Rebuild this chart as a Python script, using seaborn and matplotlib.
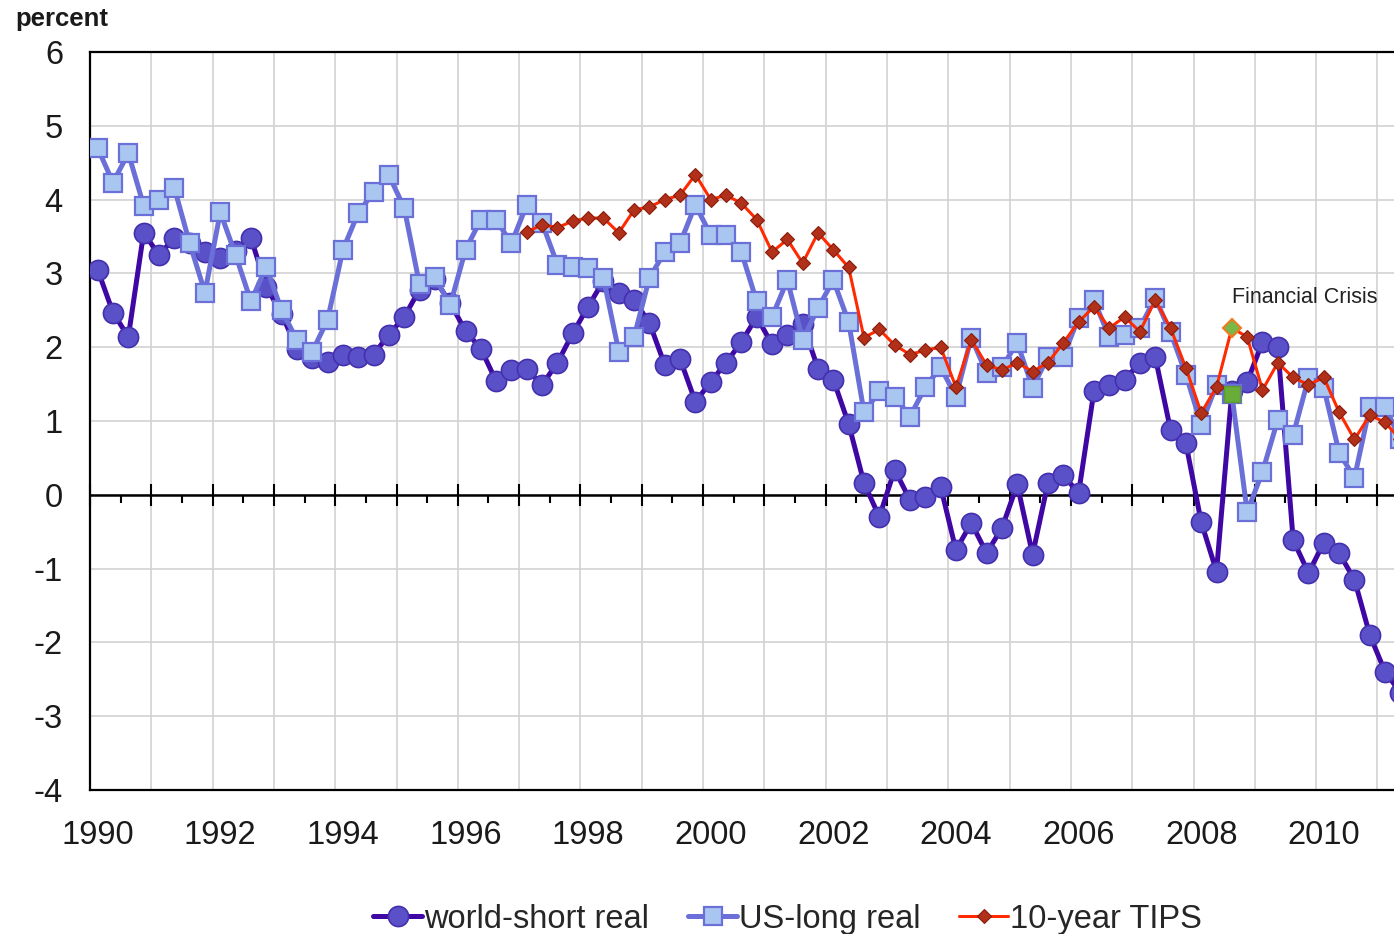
import pandas as pd
import seaborn as sns
import matplotlib.pyplot as plt
from matplotlib.ticker import FixedLocator

# quarterly data, 1990Q1 - 2011Q2
quarters = pd.period_range("1990Q1", "2011Q2", freq="Q")

world_short = [3.05, 2.47, 2.14, 3.55, 3.25, 3.48, 3.41, 3.29, 3.21, 3.30,
               3.48, 2.82, 2.45, 1.98, 1.86, 1.80, 1.90, 1.87, 1.90, 2.17,
               2.41, 2.78, 2.92, 2.60, 2.22, 1.98, 1.54, 1.69, 1.70, 1.49,
               1.79, 2.19, 2.55, 2.90, 2.74, 2.64, 2.33, 1.76, 1.84, 1.26,
               1.53, 1.79, 2.07, 2.41, 2.04, 2.17, 2.32, 1.71, 1.56, 0.96,
               0.16, -0.30, 0.34, -0.07, -0.03, 0.11, -0.75, -0.38, -0.79, -0.45,
               0.14, -0.81, 0.16, 0.27, 0.02, 1.40, 1.49, 1.56, 1.79, 1.87,
               0.88, 0.70, -0.37, -1.04, 1.40, 1.53, 2.07, 2.00, -0.61, -1.06,
               -0.65, -0.79, -1.15, -1.90, -2.40, -2.68]

us_long = [4.70, 4.23, 4.63, 3.92, 4.00, 4.16, 3.41, 2.74, 3.83, 3.25,
           2.62, 3.09, 2.50, 2.10, 1.94, 2.37, 3.32, 3.82, 4.10, 4.33,
           3.89, 2.85, 2.95, 2.57, 3.32, 3.73, 3.72, 3.41, 3.93, 3.68,
           3.12, 3.09, 3.07, 2.94, 1.94, 2.14, 2.94, 3.29, 3.41, 3.93,
           3.52, 3.52, 3.29, 2.62, 2.41, 2.91, 2.10, 2.53, 2.91, 2.34,
           1.12, 1.40, 1.33, 1.06, 1.46, 1.73, 1.33, 2.13, 1.65, 1.73,
           2.06, 1.45, 1.87, 1.87, 2.40, 2.64, 2.14, 2.17, 2.26, 2.67,
           2.20, 1.63, 0.95, 1.49, 1.36, -0.23, 0.31, 1.02, 0.81, 1.58,
           1.45, 0.57, 0.23, 1.19, 1.19, 0.75]

tips_quarters = pd.period_range("1997Q1", "2011Q2", freq="Q")
tips = [3.56, 3.66, 3.62, 3.71, 3.75, 3.75, 3.55, 3.86, 3.90, 4.00,
        4.06, 4.34, 4.00, 4.06, 3.95, 3.73, 3.29, 3.46, 3.14, 3.55,
        3.32, 3.08, 2.13, 2.24, 2.03, 1.90, 1.96, 2.00, 1.46, 2.10,
        1.76, 1.69, 1.79, 1.67, 1.79, 2.06, 2.34, 2.55, 2.26, 2.41,
        2.21, 2.64, 2.26, 1.72, 1.11, 1.46, 2.26, 2.14, 1.42, 1.79,
        1.59, 1.49, 1.59, 1.12, 0.75, 1.08, 0.98, 0.75]

crisis_quarter = pd.Period("2008Q3", freq="Q")

label_years = list(range(1990, 2012, 2))


def to_x(q):
    # centre of each quarter on a year scale
    return q.year + (q.quarter - 1) / 4 + 0.125


df = pd.DataFrame({"quarter": quarters, "world": world_short, "us": us_long})
df["x"] = [to_x(q) for q in df["quarter"]]
tips_df = pd.DataFrame({"quarter": tips_quarters, "tips": tips})
tips_df["x"] = [to_x(q) for q in tips_df["quarter"]]

sns.set_style("white")
plt.rcParams["font.family"] = ["Liberation Sans", "DejaVu Sans"]
plt.rcParams["axes.unicode_minus"] = False

W, H = 1394, 934
fig = plt.figure(figsize=(W / 100, H / 100), dpi=100)
ax = fig.add_axes([90 / W, 1 - 790 / H, 1 - 90 / W, (790 - 52) / H])

sns.lineplot(data=df, x="x", y="world", ax=ax, color="#3f07a3", linewidth=3.6,
             marker="o", markersize=14.5, markerfacecolor="#5a50c8",
             markeredgecolor="#4430ae", markeredgewidth=1.2,
             label="world-short real", zorder=3)
sns.lineplot(data=df, x="x", y="us", ax=ax, color="#6b6fd8", linewidth=3.6,
             marker="s", markersize=12.5, markerfacecolor="#a8c6f0",
             markeredgecolor="#6b6fd8", markeredgewidth=1.6,
             label="US-long real", zorder=4)
sns.lineplot(data=tips_df, x="x", y="tips", ax=ax, color="#ff2a00", linewidth=2.2,
             marker="D", markersize=7.5, markerfacecolor="#b0301a",
             markeredgecolor="#8a1c0c", markeredgewidth=0.8,
             label="10-year TIPS", zorder=5)

# highlighted crisis quarter
hl = df[df["quarter"] == crisis_quarter]
hl_t = tips_df[tips_df["quarter"] == crisis_quarter]
ax.plot(hl["x"], hl["us"], linestyle="none", marker="s", markersize=12,
        markerfacecolor="#6aac3a", markeredgecolor="#5a9a30", zorder=6)
ax.plot(hl_t["x"], hl_t["tips"], linestyle="none", marker="D", markersize=9,
        markerfacecolor="#78b848", markeredgecolor="#f07a20", markeredgewidth=1.5,
        zorder=6)

ax.text(2008.63, 2.68, "Financial Crisis", fontsize=15.5, color="#222222",
        ha="left", va="center")

# axes, grid
ax.set_xlim(1990, 2011.27)
ax.set_ylim(-4, 6)
ax.set_xticks(range(1990, 2012))
ax.set_yticks(range(-4, 7))
ax.grid(True, color="#d2d2d2", linewidth=1.2)
ax.set_axisbelow(True)
ax.tick_params(axis="x", length=0, labelbottom=False)
ax.tick_params(axis="y", direction="out", length=7.5, width=1.5, pad=12,
               labelsize=23.5, color="black", labelcolor="#1a1a1a")
ax.set_xlabel("")
ax.set_ylabel("")
for side in ["left", "bottom", "top"]:
    ax.spines[side].set_color("black")
    ax.spines[side].set_linewidth(1.6)
ax.spines["right"].set_visible(False)

# year labels at the bottom
lab = ax.secondary_xaxis("bottom")
lab.set_xticks([y + 0.125 for y in label_years], labels=[str(y) for y in label_years])
lab.tick_params(length=0, pad=21.5, labelsize=23.5, labelcolor="#1a1a1a")
lab.spines["bottom"].set_visible(False)

# zero line with tick marks
zero = ax.secondary_xaxis(0.4)
zero.set_zorder(1)
zero.set_xticks(range(1990, 2012))
zero.xaxis.set_minor_locator(FixedLocator([y + 0.5 for y in range(1990, 2012)]))
zero.tick_params(which="major", direction="inout", length=16, width=1.5,
                 color="black", labelbottom=False)
zero.tick_params(which="minor", direction="out", length=5.5, width=1.5,
                 color="black")
zero.spines["bottom"].set_linewidth(1.8)
zero.spines["bottom"].set_color("black")

fig.text(15 / W, 1 - 19 / H, "percent", fontsize=18.5, fontweight="bold",
         color="#1a1a1a", ha="left", va="center")

handles, labels = ax.get_legend_handles_labels()
ax.legend(handles, labels, loc="lower center", bbox_to_anchor=(0.565, -0.032),
          bbox_transform=fig.transFigure, ncol=3, frameon=False, fontsize=23.5,
          handlelength=1.5, handletextpad=0.05, columnspacing=1.2)

fig.savefig("out.png", dpi=100)
